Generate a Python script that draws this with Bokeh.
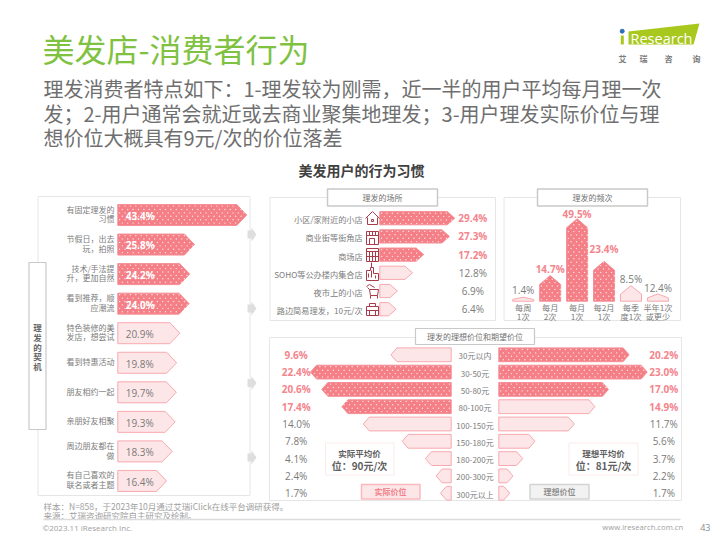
from bokeh.plotting import figure
from bokeh.models import Range1d
from bokeh.core.properties import value
from bokeh.embed import file_html
from bokeh.resources import INLINE

# ---------- data ----------
title = "美发店-消费者行为"
subtitle = ["理发消费者特点如下：1-理发较为刚需，近一半的用户平均每月理一次",
            "发；2-用户通常会就近或去商业聚集地理发；3-用户理发实际价位与理",
            "想价位大概具有9元/次的价位落差"]
heading = "美发用户的行为习惯"

motive_labels = [["有固定理发的", "习惯"], ["节假日，出去", "玩，拍照"], ["技术/手法提", "升，更加自然"],
                 ["看到推荐，顺", "应潮流"], ["特色装修的美", "发店，想尝试"], ["看到特惠活动"],
                 ["朋友相约一起"], ["亲朋好友相聚"], ["周边朋友都在", "做"], ["有自己喜欢的", "联名或者主题"]]
motive_values = [43.4, 25.8, 24.2, 24.0, 20.9, 19.8, 19.7, 19.3, 18.3, 16.4]
motive_hot = 4

place_labels = ["小区/家附近的小店", "商业街等街角店", "商场店", "SOHO等公办楼内集合店", "夜市上的小店", "路边简易理发，10元/次"]
place_values = [29.4, 27.3, 17.2, 12.8, 6.9, 6.4]
place_hot = 3

freq_labels = [["每周", "1次"], ["每月", "2次"], ["每月", "1次"], ["每2月", "1次"], ["每季", "度1次"], ["半年1次", "或更少"]]
freq_texts = ["1.4%", "14.7%", "49.5%", "23.4%", "8.5%", "12.4%"]
freq_heights = [1.4, 14.7, 49.5, 23.4, 8.5, 3.4]
freq_text_values = [5.9, 19.0, 52.5, 31.0, 12.4, 6.8]
freq_hot = [1, 2, 3]

price_labels = ["30元以内", "30-50元", "50-80元", "80-100元", "100-150元", "150-180元", "180-200元", "200-300元", "300元以上"]
actual_values = [9.6, 22.4, 20.6, 17.4, 14.0, 7.8, 4.1, 2.4, 1.7]
ideal_values = [20.2, 23.0, 17.0, 14.9, 11.7, 5.6, 3.7, 2.2, 1.7]
actual_hot = [1, 2, 3]
ideal_hot = [0, 1, 2]

# ---------- styles ----------
CJK = "Noto Sans CJK SC"
LAT = "Open Sans"
HOT = "#f47f87"
HOT_TXT = "#f4858d"
PALE = "#fde6e8"
PALE_LN = "#f8a9af"
FRAME = "#e6e6e6"
TBOX = "#c9c9c9"
GREY = "#7f7f7f"
LABEL = "#7c7c7c"
ICON = "#a83c4b"

W, H = 720, 540
p = figure(width=W, height=H, x_range=(0, W), y_range=(H, 0), output_backend="svg",
           toolbar_location=None, x_axis_location=None, y_axis_location=None, min_border=0)
p.grid.visible = False
p.outline_line_color = None
p.background_fill_color = "#ffffff"

SX, SY = {}, {}


def add_x(name, px0, per):
    SX[name] = abs(per)
    p.extra_x_ranges[name] = Range1d(start=(0 - px0) / per, end=(W - px0) / per)


def add_y(name, px0, per):
    SY[name] = abs(per)
    p.extra_y_ranges[name] = Range1d(start=(H - px0) / per, end=(0 - px0) / per)


def txt(x, y, s, size, color=GREY, font=CJK, align="center", style="normal", xr="default", yr="default"):
    p.text([x], [y], text=[s], text_font=value(font), text_font_size=size, text_color=color,
           text_align=align, text_baseline="middle", text_font_style=style,
           x_range_name=xr, y_range_name=yr)


def box(x0, x1, y0, y1, fill="#ffffff", line=FRAME, lw=1.0):
    p.quad(left=[x0], right=[x1], top=[y0], bottom=[y1], fill_color=fill, line_color=line, line_width=lw)


def inside(px, py, xs, ys):
    c = False
    n = len(xs)
    for a in range(n):
        b = (a + 1) % n
        if (ys[a] > py) != (ys[b] > py) and px < xs[a] + (py - ys[a]) * (xs[b] - xs[a]) / (ys[b] - ys[a]):
            c = not c
    return c


def dots(xs, ys, xr, yr, dx=5.4, dy=3.4):
    """Texture of fine white dots, staggered, filling the polygon."""
    sx, sy = SX[xr], SY[yr]
    ox, oy = [], []
    for px, py in zip(xs, ys):
        px_ = [v * sx for v in px]
        py_ = [v * sy for v in py]
        row = 0
        yy = min(py_) + 1.6
        while yy < max(py_) - 0.8:
            xx = min(px_) + 1.8 + (dx / 2 if row % 2 else 0)
            while xx < max(px_):
                if inside(xx, yy, px_, py_):
                    ox.append(xx / sx)
                    oy.append(yy / sy)
                xx += dx
            yy += dy
            row += 1
    p.scatter(ox, oy, marker="circle", size=1.4, fill_color="#ffffff", fill_alpha=0.8, line_color=None,
              x_range_name=xr, y_range_name=yr)


def shapes(xs, ys, hot, xr, yr):
    if hot:
        p.patches(xs, ys, fill_color=HOT, line_color="#f68f96", line_width=1, x_range_name=xr, y_range_name=yr)
        dots(xs, ys, xr, yr)
    else:
        p.patches(xs, ys, fill_color=PALE, line_color=PALE_LN, line_width=1, x_range_name=xr, y_range_name=yr)


def arrows(vals, hot_flags, hd, hh, xr, yr):
    for hot in (True, False):
        xs, ys = [], []
        for i, v in enumerate(vals):
            if hot_flags[i] == hot:
                xs.append([0, v - hd, v, v - hd, 0])
                ys.append([i - hh, i - hh, i, i + hh, i + hh])
        if xs:
            shapes(xs, ys, hot, xr, yr)


# ---------- header ----------
txt(42, 47.5, title, "32px", "#7fc241", align="left")
for y, line in zip([88, 113, 137], subtitle):
    txt(43, y, line, "20px", "#6f6f6f", align="left")
txt(361, 169, heading, "14px", "#404040", style="bold")

# logo
p.patches([[628, 699, 693, 628]], [[31, 23, 44, 44]], fill_color="#a9c81e", line_color=None)
p.scatter([621.7], [30.7], size=4, color="#2f6fb5")
p.quad(left=[620.3], right=[623.3], top=[35], bottom=[44], fill_color="#a9c81e", line_color=None)
txt(630, 37.5, "Research", "14.5px", "#ffffff", font=LAT, align="left")
for x, ch in zip([622, 643, 668, 696], "艾瑞咨询"):
    txt(x, 58, ch, "8px", "#7a7a7a", style="bold")

# ---------- left panel: motives ----------
box(37.5, 249.5, 196, 495)
box(28.5, 45.5, 262, 429, line=TBOX, lw=1.2)
for y, ch in zip([326.7, 336.5, 346, 355.7, 365], "理发的契机"):
    txt(37, y, ch, "8.5px", "#666666", style="bold")
for c in [234, 308, 382.6, 457]:
    p.patches([[247, 251, 251, 256, 251, 251, 247]], [[c - 4, c - 4, c - 7, c, c + 7, c + 4, c + 4]],
              fill_color="#dedede", line_color=None)

add_x("motive", 117.3, 2.97)
add_y("motive", 214.5, 29.55)
arrows(motive_values, [i < motive_hot for i in range(10)], 10 / 2.97, 10.5 / 29.55, "motive", "motive")
for i, (lab, v) in enumerate(zip(motive_labels, motive_values)):
    for j, s in enumerate(lab):
        off = (j - (len(lab) - 1) / 2) * 9.6 / 29.55
        txt(-1.1, i + off - 0.04, s, "8px", LABEL, align="right", xr="motive", yr="motive")
    hot = i < motive_hot
    txt(2.65, i + 0.03, f"{v:.1f}%", "10px", "#ffffff" if hot else "#7a7a7a", font=LAT, align="left",
        style="bold" if hot else "normal", xr="motive", yr="motive")

# ---------- middle top panel: places ----------
box(269.5, 495, 197, 320)
box(327, 437, 188.5, 205.5, line=TBOX, lw=1.5)
txt(382, 197, "理发的场所", "8px", "#707070")
add_x("place", 379.3, 2.55)
add_y("place", 217.7, 18.2)
arrows(place_values, [i < place_hot for i in range(6)], 7.5 / 2.55, 6.6 / 18.2, "place", "place")
for i, (lab, v) in enumerate(zip(place_labels, place_values)):
    txt(-6.7, i + 0.05, lab, "8.2px", LABEL, align="right", xr="place", yr="place")
    hot = i < place_hot
    txt(36.5, i, f"{v:.1f}%", "10px", HOT_TXT if hot else "#7a7a7a", font=LAT,
        style="bold" if hot else "normal", xr="place", yr="place")

# small pictograms beside the place labels
ic = dict(line_color=ICON, line_width=1)
def icon(cx, cy, segs):
    p.multi_line([[cx + a for a, _ in s] for s in segs], [[cy + b for _, b in s] for s in segs], **ic)
icon(372, 218, [[(-7, 0), (0, -7), (7, 0)], [(-5, -1), (-5, 6), (5, 6), (5, -1)], [(-1, 1), (1, 1), (1, 3), (-1, 3), (-1, 1)]])
icon(372, 237, [[(-6, -6), (6, -6), (6, 7), (-6, 7), (-6, -6)], [(-6, -2), (6, -2)], [(-3, -6), (-3, -2)], [(0, -6), (0, -2)],
                [(3, -6), (3, -2)], [(-3, 1), (2, 1), (2, 7), (-3, 7), (-3, 1)]])
icon(372, 254, [[(-6, -6), (6, -6), (6, 7), (-6, 7), (-6, -6)], [(-6, -3), (6, -3)], [(-3, -3), (-3, 7)], [(0, -3), (0, 7)], [(3, -3), (3, 7)], [(-6, 2), (6, 2)]])
icon(372, 273, [[(-6, 7), (-6, -3), (-2, -3), (-2, -6), (1, -6), (1, 0), (6, 0), (6, 7), (-6, 7)], [(-1, -11), (-1, -6)],
                [(-4, 0), (-4, 4)], [(-1, -3), (-1, 4)], [(3, 2), (3, 5)]])
icon(372, 291, [[(-6, -5), (-3, -7), (2, -4)], [(-3, -2), (6, -2), (5, 4), (-2, 4), (-3, -2)], [(-2, 4), (-2, 7)], [(5, 4), (5, 7)], [(-5, -4), (-3, -2)]])
icon(372, 309, [[(-6, -3), (6, -3), (6, 6), (-6, 6), (-6, -3)], [(-3, -3), (-3, -6), (3, -6), (3, -3)], [(-6, 1), (6, 1)], [(-3, 1), (-3, 6)], [(3, 1), (3, 6)]])

# ---------- right top panel: frequency ----------
box(503.5, 680, 197, 320)
box(537, 647, 188.5, 205.5, line=TBOX, lw=1.5)
txt(592, 197, "理发的频次", "8px", "#707070")
add_x("freq", 522.7, 26.95)
add_y("freq", 299, -1.63)
base = -1.04
for hot in (True, False):
    xs, ys = [], []
    for i, v in enumerate(freq_heights):
        if (i in freq_hot) == hot:
            hd = min(5.5, (v - base) * 0.55)
            xs.append([i - 0.39, i - 0.39, i, i + 0.39, i + 0.39])
            ys.append([base, v - hd, v, v - hd, base])
    shapes(xs, ys, hot, "freq", "freq")
for i, (lab, s, tv) in enumerate(zip(freq_labels, freq_texts, freq_text_values)):
    hot = i in freq_hot
    txt(i, tv, s, "10px", HOT_TXT if hot else "#7a7a7a", font=LAT, style="bold" if hot else "normal", xr="freq", yr="freq")
    for j, t in enumerate(lab):
        txt(i, -4.7 - j * 5.7, t, "8.2px", LABEL, xr="freq", yr="freq")

# ---------- lower panel: price ----------
box(269, 681, 337, 500)
box(415, 534, 328, 344, line=TBOX, lw=1.2)
txt(474.5, 336, "理发的理想价位和期望价位", "8px", "#707070")
add_x("actual", 450.7, -6.28)
add_x("ideal", 498.3, 6.45)
add_y("price", 354.3, 17.3)
arrows(actual_values, [i in actual_hot for i in range(9)], 6 / 6.28, 6.9 / 17.3, "actual", "price")
arrows(ideal_values, [i in ideal_hot for i in range(9)], 6 / 6.45, 6.9 / 17.3, "ideal", "price")
for i, (lab, a, b) in enumerate(zip(price_labels, actual_values, ideal_values)):
    txt(474.5, i + 0.06, lab, "8px", LABEL, yr="price")
    hl = i < 4
    txt(295.7, i, f"{a:.1f}%", "10px", HOT_TXT if hl else "#7a7a7a", font=LAT, style="bold" if hl else "normal", yr="price")
    txt(663.3, i, f"{b:.1f}%", "10px", HOT_TXT if hl else "#7a7a7a", font=LAT, style="bold" if hl else "normal", yr="price")

for x0, x1, cx, lab, val in [(325, 393.5, 359, "实际平均价", "90元/次"), (568.5, 637.5, 603, "理想平均价", "81元/次")]:
    box(x0, x1, 442.5, 474.5, line="#fbe9ea")
    txt(cx, 452.7, lab, "8.5px", "#5f5f5f", style="bold")
    txt(cx, 464.5, "位：" + val, "10px", "#5f5f5f", style="bold")
box(361, 419.5, 484, 498.5, fill=PALE, line="#f9b9bd", lw=1.5)
txt(390, 491.3, "实际价位", "8px", "#f0828a", style="bold")
box(529.5, 588.5, 484, 498.5, fill="#f2f2f2", line="#d4d4d4", lw=1.5)
txt(559, 491.3, "理想价位", "8px", "#8f8f8f", style="bold")

# ---------- footer ----------
txt(43, 505, "样本：N=858，于2023年10月通过艾瑞iClick在线平台调研获得。", "8.5px", "#a0a0a0", align="left")
txt(43, 514, "来源：艾瑞咨询研究院自主研究及绘制。", "8.5px", "#a0a0a0", align="left")
p.line([43, 680], [519, 519], line_color="#dcdcdc", line_width=1.5)
txt(42, 526.5, "©2023.11 iResearch Inc.", "8px", "#a0a0a0", font=LAT, align="left")
txt(682.7, 526.5, "www.iresearch.com.cn", "7.7px", "#a0a0a0", font=LAT, align="right")
txt(710, 526.5, "43", "9px", "#8c8c8c", font=LAT, align="right")

open("out.html", "w").write(file_html(p, INLINE))
